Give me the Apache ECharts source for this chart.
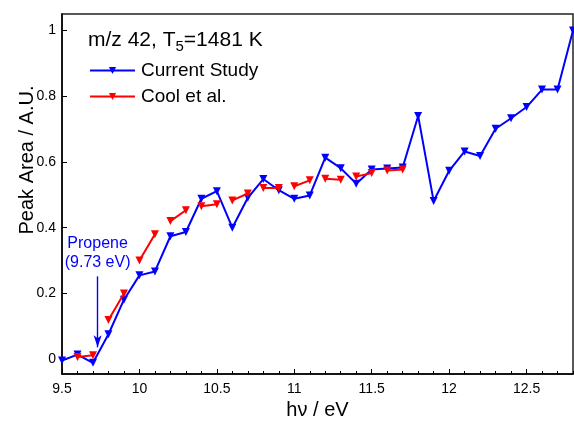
<!DOCTYPE html>
<html><head><meta charset="utf-8">
<script src="https://cdn.jsdelivr.net/npm/echarts@6/dist/echarts.min.js"></script>
<style>html,body{margin:0;padding:0;background:#fff}#c{width:574px;height:426px}</style>
</head><body><div id="c"></div>
<script>
// Photon energy (eV) and peak area — Current Study
const currentX = [9.5, 9.6, 9.7, 9.8, 9.9, 10.0, 10.1, 10.2, 10.3, 10.4, 10.5, 10.6, 10.7, 10.8, 10.9, 11.0, 11.1, 11.2, 11.3, 11.4, 11.5, 11.6, 11.7, 11.8, 11.9, 12.0, 12.1, 12.2, 12.3, 12.4, 12.5, 12.6, 12.7, 12.8];
const currentY = [-0.004, 0.014, -0.011, 0.076, 0.181, 0.255, 0.267, 0.374, 0.387, 0.488, 0.511, 0.400, 0.491, 0.548, 0.514, 0.488, 0.498, 0.613, 0.581, 0.534, 0.577, 0.580, 0.583, 0.740, 0.481, 0.573, 0.632, 0.618, 0.701, 0.733, 0.767, 0.820, 0.820, 1.000];
// Cool et al. (measured as pairs of connected points)
const coolX = [9.6, 9.7, 9.8, 9.9, 10.0, 10.1, 10.2, 10.3, 10.4, 10.5, 10.6, 10.7, 10.8, 10.9, 11.0, 11.1, 11.2, 11.3, 11.4, 11.5, 11.6, 11.7];
const coolY = [0.007, 0.012, 0.119, 0.200, 0.300, 0.380, 0.420, 0.453, 0.465, 0.471, 0.483, 0.504, 0.521, 0.521, 0.526, 0.544, 0.549, 0.546, 0.556, 0.566, 0.574, 0.577];
const coolPairSize = 2;
// annotation
const propeneIE = 9.73;
const arrowFrom = 0.252, arrowTo = 0.036;
const xMin = 9.5, xMax = 12.8, xMajor = 0.5, xMinor = 0.1;
const yMin = -0.045, yMax = 1.05;

const FONT = 'Liberation Sans, Arial, sans-serif';
const BLUE = '#0000ff', RED = '#ff0000';
const currentData = currentX.map((x, i) => [x, currentY[i]]);
const coolData = [];
coolX.forEach((x, i) => {
  coolData.push([x, coolY[i]]);
  if ((i + 1) % coolPairSize === 0 && i < coolX.length - 1) coolData.push(null);
});

const W = 574, H = 426;
const gridBox = {left: 62, right: 1, top: 14, bottom: 52};
const plotH = H - gridBox.top - gridBox.bottom;
const chart = echarts.init(document.getElementById('c'), null, {renderer: 'canvas'});
chart.setOption({
  animation: false,
  backgroundColor: '#fff',
  textStyle: {fontFamily: FONT, color: '#000'},
  grid: Object.assign({show: true, borderColor: '#222', borderWidth: 1.5, backgroundColor: 'transparent'}, gridBox),
  title: {
    left: 88, top: 27, padding: 0,
    text: '{a|m/z 42, T}{s|5}{a|=1481 K}',
    textStyle: {
      fontWeight: 'normal',
      rich: {
        a: {fontSize: 21, fontFamily: FONT, fontWeight: 'normal', color: '#000', lineHeight: 27, verticalAlign: 'middle'},
        s: {fontSize: 15, fontFamily: FONT, fontWeight: 'normal', color: '#000', lineHeight: 27, verticalAlign: 'bottom', padding: [8, 0, 0, 0]}
      }
    }
  },
  legend: {
    left: 89, top: 61, orient: 'vertical', itemWidth: 45, itemHeight: 9, itemGap: 7, padding: 0,
    textStyle: {fontSize: 19, fontFamily: FONT, color: '#000', padding: [0, 0, 0, 1]},
    data: ['Current Study', 'Cool et al.']
  },
  xAxis: [{
    type: 'value', min: xMin, max: xMax, interval: xMajor, position: 'bottom',
    name: 'h\u03bd / eV', nameLocation: 'middle', nameGap: 26,
    nameTextStyle: {fontSize: 20, fontFamily: FONT, color: '#000'},
    axisLine: {show: true, onZero: false, lineStyle: {color: '#000', width: 1.5}},
    axisTick: {show: true, inside: true, length: 5, lineStyle: {color: '#000', width: 1}},
    axisLabel: {fontSize: 14, color: '#000', margin: 8, fontFamily: FONT, showMaxLabel: false},
    splitLine: {show: false}
  }, {
    // minor ticks every 0.1 eV, placed on the bottom edge pointing inward
    type: 'value', min: xMin, max: xMax, interval: xMinor, position: 'top', offset: -plotH,
    axisLine: {show: false, onZero: false},
    axisTick: {show: true, inside: false, length: 3, lineStyle: {color: '#000', width: 1}},
    axisLabel: {show: false},
    splitLine: {show: false}
  }],
  yAxis: {
    type: 'value', min: yMin, max: yMax, splitNumber: 5,
    axisLine: {show: true, onZero: false, lineStyle: {color: '#000', width: 1.5}},
    axisTick: {show: true, inside: true, length: 5, lineStyle: {color: '#000', width: 1}},
    axisLabel: {fontSize: 14, color: '#000', margin: 6, fontFamily: FONT, showMinLabel: false, showMaxLabel: false,
      formatter: v => (Math.abs(v / 0.2 - Math.round(v / 0.2)) < 1e-6 ? String(+v.toFixed(1)) : '')},
    splitLine: {show: false}
  },
  graphic: [{
    type: 'text', x: 27, y: 160, rotation: Math.PI / 2,
    style: {text: 'Peak Area / A.U.', fontSize: 20, fontFamily: FONT, fill: '#000', textAlign: 'center', textVerticalAlign: 'middle'}
  }],
  series: [{
    name: 'Current Study', type: 'line', xAxisIndex: 0, data: currentData,
    symbol: 'triangle', symbolRotate: 180, symbolSize: 8,
    lineStyle: {color: BLUE, width: 2}, itemStyle: {color: BLUE},
    markLine: {
      silent: true, symbol: ['none', 'arrow'], symbolSize: [6, 12],
      lineStyle: {color: BLUE, width: 1.4, type: 'solid'},
      itemStyle: {color: BLUE},
      emphasis: {disabled: true},
      label: {show: true, position: 'start', formatter: 'Propene\n(9.73 eV)', color: BLUE, fontSize: 16, fontFamily: FONT, lineHeight: 19, distance: 4},
      data: [[{coord: [propeneIE, arrowFrom], lineStyle: {color: BLUE}, itemStyle: {color: BLUE}},
              {coord: [propeneIE, arrowTo], lineStyle: {color: BLUE}, itemStyle: {color: BLUE}}]]
    },
    z: 3
  }, {
    name: 'Cool et al.', type: 'line', xAxisIndex: 0, data: coolData, connectNulls: false,
    symbol: 'triangle', symbolRotate: 180, symbolSize: 8,
    lineStyle: {color: RED, width: 2}, itemStyle: {color: RED},
    z: 4
  }]
});
</script>
</body></html>
